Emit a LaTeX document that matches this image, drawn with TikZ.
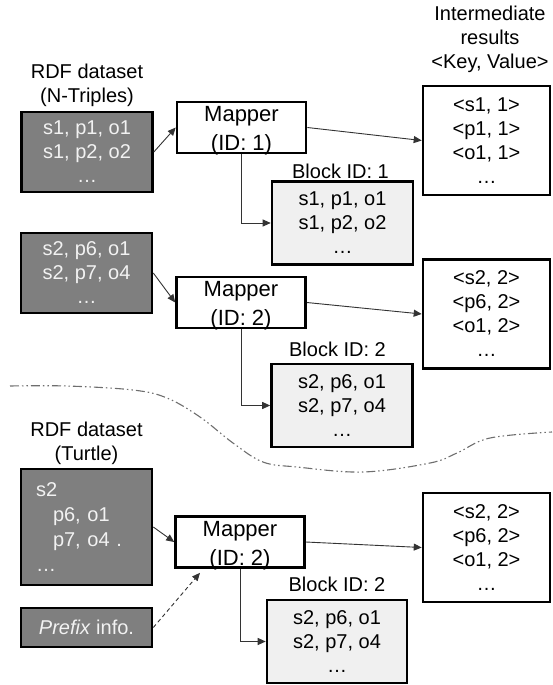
\documentclass[tikz,border=0pt]{standalone}
\usepackage{fontspec}
\setmainfont{Liberation Sans}
\usetikzlibrary{arrows.meta}
\definecolor{datafill}{HTML}{7F7F7F}
\definecolor{datatext}{HTML}{F2F2F2}
\definecolor{blockfill}{HTML}{F0F0F0}
\definecolor{wirecol}{HTML}{333333}
\definecolor{dividercol}{HTML}{6E6E6E}
% two-line mapper label, baseline on the first row
\newcommand{\mapperlines}[1]{\begin{tabular}[t]{@{}c@{}}Mapper\\(ID: #1)\end{tabular}}

\begin{document}
\begin{tikzpicture}[x=1pt,y=-1pt,
  box/.style={draw=black, line width=2.6pt, rectangle, inner sep=0pt, align=center,
    font=\fontsize{20}{24}\selectfont},
  dataset/.style={box, fill=datafill, text=datatext, minimum width=131pt},
  mapperbox/.style={box, fill=white, minimum width=129pt, minimum height=51pt,
    font=\fontsize{22}{29}\selectfont, text height=15pt, text depth=26.6pt},
  blockbox/.style={box, fill=blockfill, minimum width=141pt, minimum height=83pt},
  resultbox/.style={box, fill=white, minimum width=127pt, minimum height=109pt},
  caption/.style={font=\fontsize{20}{24}\selectfont, align=center, inner sep=0pt, anchor=south},
  wire/.style={draw=wirecol, line width=0.9pt, -{Triangle[length=8pt,width=7pt]}},
]
\useasboundingbox (0,0) rectangle (552,685);

% ---- N-Triples input, first split ----
\node[dataset, minimum height=80pt] (d1) at (87,152) {s1, p1, o1\\s1, p2, o2\\…};
\node[caption] (d1cap) at ([yshift=4pt]d1.north) {RDF dataset\\(N-Triples)};
\node[mapperbox] (m1) at (241.5,127.5) {\mapperlines{1}};
\node[blockbox] (b1) at (342.5,223) {s1, p1, o1\\s1, p2, o2\\…};
\node[caption] (b1cap) at ([yshift=1.5pt,xshift=-2pt]b1.north) {Block ID: 1};
\node[resultbox] (i1) at (486.5,140.5) {<s1, 1>\\<p1, 1>\\<o1, 1>\\…};
\node[caption] (i1cap) at ([yshift=11.5pt,xshift=3.5pt]i1.north) {Intermediate\\results\\<Key, Value>};

% ---- N-Triples input, second split ----
\node[dataset, minimum height=80pt] (d2) at (86.5,273) {s2, p6, o1\\s2, p7, o4\\…};
\node[mapperbox] (m2) at (241,302.5) {\mapperlines{2}};
\node[blockbox] (b2) at (342,405.5) {s2, p6, o1\\s2, p7, o4\\…};
\node[caption] (b2cap) at ([yshift=6pt,xshift=-4.5pt]b2.north) {Block ID: 2};
\node[resultbox] (i2) at (486.5,314) {<s2, 2>\\<p6, 2>\\<o1, 2>\\…};

% ---- Turtle input ----
\node[dataset, minimum height=116pt, text width=101pt, align=left, inner xsep=15pt,
  font=\fontsize{20}{25}\selectfont] (d3) at (86.5,527)
  {s2\\\hspace*{17pt}p6, o1\\\hspace*{17pt}p7, o4 .\\…};
\node[caption] (d3cap) at ([yshift=3pt]d3.north) {RDF dataset\\(Turtle)};
\node[dataset, minimum height=39pt] (pf) at (86.5,627.5) {\textit{Prefix} info.};
\node[mapperbox] (m3) at (240,542) {\mapperlines{2}};
\node[blockbox, minimum width=140pt] (b3) at (337,641.5) {s2, p6, o1\\s2, p7, o4\\…};
\node[caption] (b3cap) at ([yshift=7pt]b3.north) {Block ID: 2};
\node[resultbox] (i3) at (486.5,547.5) {<s2, 2>\\<p6, 2>\\<o1, 2>\\…};
\coordinate (m3foot) at ([xshift=-40pt,yshift=-4pt]m3.south);

% ---- connectors ----
\draw[wire] (d1.east) -- (m1.west);
\draw[wire] (m1.east) -- (i1.west);
\draw[wire] (m1.south) |- (b1.west);
\draw[wire] (d2.east) -- (m2.west);
\draw[wire] (m2.east) -- (i2.west);
\draw[wire] (m2.south) |- (b2.west);
\draw[wire] (d3.east) -- (m3.west);
\draw[wire] (m3.east) -- (i3.west);
\draw[wire] (m3.south) |- (b3.west);
\draw[wire, dash pattern=on 4pt off 3pt] (pf.east) -- (m3foot);

% ---- divider between the two input formats ----
\draw[dividercol, line width=1.1pt,
  dash pattern=on 9pt off 3pt on 1.5pt off 3pt on 1.5pt off 3pt]
  plot[smooth, tension=0.6] coordinates {(10,386) (67,386) (133,390) (167,398)
    (200,417) (233,443) (263,462) (297,467) (363,472) (430,463) (457,453)
    (490,438) (552,432)};
\end{tikzpicture}
\end{document}
